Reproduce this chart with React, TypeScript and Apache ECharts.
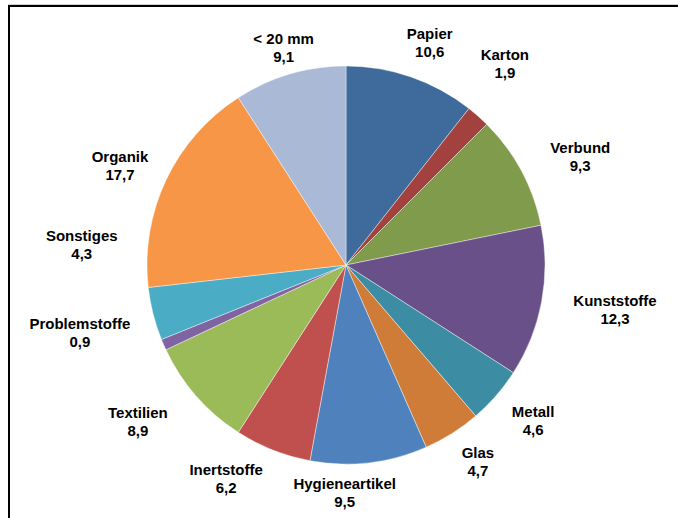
import { useEffect, useRef } from "react";
import * as echarts from "echarts";

const categories = [
  "Papier",
  "Karton",
  "Verbund",
  "Kunststoffe",
  "Metall",
  "Glas",
  "Hygieneartikel",
  "Inertstoffe",
  "Textilien",
  "Problemstoffe",
  "Sonstiges",
  "Organik",
  "< 20 mm",
];
const values = [10.6, 1.9, 9.3, 12.3, 4.6, 4.7, 9.5, 6.2, 8.9, 0.9, 4.3, 17.7, 9.1];
const colors = [
  "#3f6b9c",
  "#a2413e",
  "#7f9b4b",
  "#6a5088",
  "#3c8da3",
  "#ce7c38",
  "#4f81bd",
  "#c0504d",
  "#9bbb59",
  "#8064a2",
  "#4bacc6",
  "#f79646",
  "#aab9d6",
];
// label placement relative to each slice: angle shift from the slice's mid-angle (deg)
// and distance of the label centre as a multiple of the pie radius
const labelAngleShift = [1.5, -3.4, 3.5, -1.3, -1.4, -1.6, 7, 7.7, 4.2, 9.3, 18.7, -1.7, 0.4];
const labelDistance = [1.196, 1.291, 1.296, 1.37, 1.221, 1.191, 1.141, 1.231, 1.31, 1.38, 1.332, 1.24, 1.139];

const CX = 346;
const CY = 265;
const R = 199;

export default function App() {
  const ref = useRef<HTMLDivElement>(null);
  useEffect(() => {
    if (!ref.current) return;
    const chart = echarts.init(ref.current, undefined, { renderer: "svg" });
    const total = values.reduce((a, b) => a + b, 0);
    const cum: number[] = [];
    let acc = 0;
    values.forEach((v) => {
      cum.push(acc + v / 2);
      acc += v;
    });
    chart.setOption({
      animation: false,
      backgroundColor: "#ffffff",
      graphic: [
        {
          type: "line",
          shape: { x1: 8, y1: 4.5, x2: 678, y2: 4.5 },
          style: { stroke: "#d0d0d0", lineWidth: 1 },
        },
        {
          type: "rect",
          shape: { x: 9, y: 6, width: 720, height: 600 },
          style: { fill: "none", stroke: "#000000", lineWidth: 2 },
        },
      ],
      series: [
        {
          type: "pie",
          center: [CX, CY],
          radius: R,
          startAngle: 90,
          clockwise: true,
          avoidLabelOverlap: false,
          data: categories.map((name, i) => ({
            name,
            value: values[i],
            itemStyle: { color: colors[i] },
          })),
          itemStyle: { borderColor: "rgba(255,255,255,0.7)", borderWidth: 0.6 },
          emphasis: { disabled: true },
          label: {
            show: true,
            position: "outside",
            formatter: (p: any) => p.name + "\n" + String(p.value).replace(".", ","),
            fontFamily: "Liberation Sans, Arial, sans-serif",
            fontWeight: "bold",
            fontSize: 15,
            lineHeight: 18,
            color: "#000000",
            align: "center",
          },
          labelLine: { show: false },
          labelLayout: (params: any) => {
            const i = params.dataIndex;
            const ang = ((cum[i] / total) * 360 + labelAngleShift[i]) * (Math.PI / 180);
            const d = R * labelDistance[i];
            return {
              x: CX + Math.sin(ang) * d,
              y: CY - Math.cos(ang) * d,
              align: "center",
              verticalAlign: "middle",
            };
          },
        },
      ],
    });
    return () => chart.dispose();
  }, []);
  return (
    <div
      ref={ref}
      style={{ position: "fixed", left: 0, top: 0, width: 678, height: 518 }}
    />
  );
}
